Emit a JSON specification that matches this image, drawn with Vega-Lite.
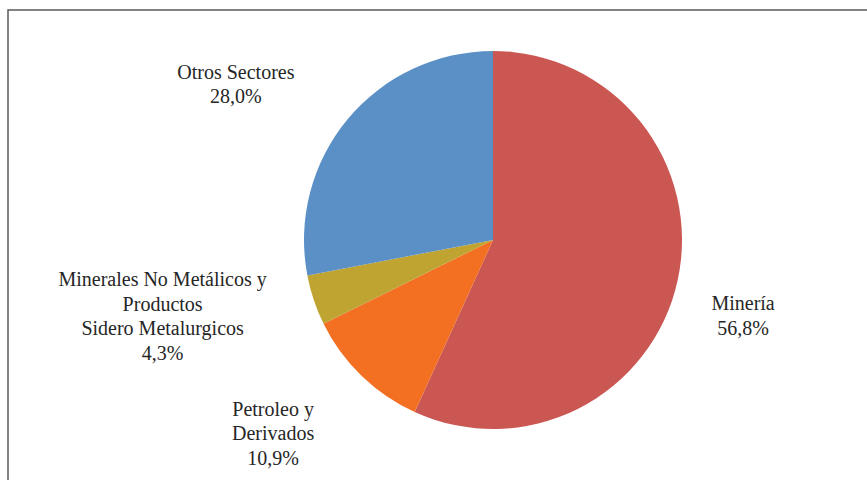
{
  "$schema": "https://vega.github.io/schema/vega-lite/v6.json",
  "width": 859,
  "height": 470,
  "autosize": {"type": "none"},
  "padding": {"left": 8, "top": 10, "right": 0, "bottom": 0},
  "background": "white",
  "view": {"stroke": "#595959", "strokeWidth": 1.5, "strokeDash": [859, 1329, 470, 1]},
  "config": {
    "text": {"font": "Liberation Serif", "fontSize": 20, "lineHeight": 24.5, "color": "#262626", "align": "center", "baseline": "middle", "lineBreak": "\n"}
  },
  "data": {
    "values": [
      {"sector": "Minería", "pct": 56.8, "label": "Minería\n56,8%", "order": 1},
      {"sector": "Petroleo y Derivados", "pct": 10.9, "label": "Petroleo y\nDerivados\n10,9%", "order": 2},
      {"sector": "Minerales No Metálicos y Productos Sidero Metalurgicos", "pct": 4.3, "label": "Minerales No Metálicos y\nProductos\nSidero Metalurgicos\n4,3%", "order": 3},
      {"sector": "Otros Sectores", "pct": 28.0, "label": "Otros Sectores\n28,0%", "order": 4}
    ]
  },
  "encoding": {
    "theta": {"field": "pct", "type": "quantitative", "stack": true},
    "order": {"field": "order", "type": "quantitative"}
  },
  "layer": [
    {
      "mark": {"type": "arc", "outerRadius": 189, "x": 485, "y": 230},
      "encoding": {
        "color": {
          "field": "sector",
          "type": "nominal",
          "legend": null,
          "scale": {
            "domain": ["Minería", "Petroleo y Derivados", "Minerales No Metálicos y Productos Sidero Metalurgicos", "Otros Sectores"],
            "range": ["#CB5753", "#F37023", "#C0A431", "#5B90C6"]
          }
        }
      }
    },
    {
      "mark": {"type": "text", "x": 485, "y": 230, "radius": 261, "dx": -5, "dy": 9},
      "encoding": {"text": {"condition": {"test": "datum.order === 1", "field": "label"}, "value": ""}}
    },
    {
      "mark": {"type": "text", "x": 485, "y": 230, "radius": 293, "dx": -16, "dy": -40.5},
      "encoding": {"text": {"condition": {"test": "datum.order === 2", "field": "label"}, "value": ""}}
    },
    {
      "mark": {"type": "text", "x": 485, "y": 230, "radius": 339, "dx": -9, "dy": -67.75},
      "encoding": {"text": {"condition": {"test": "datum.order === 3", "field": "label"}, "value": ""}}
    },
    {
      "mark": {"type": "text", "x": 485, "y": 230, "radius": 300, "dx": -26, "dy": 23.75},
      "encoding": {"text": {"condition": {"test": "datum.order === 4", "field": "label"}, "value": ""}}
    }
  ]
}
